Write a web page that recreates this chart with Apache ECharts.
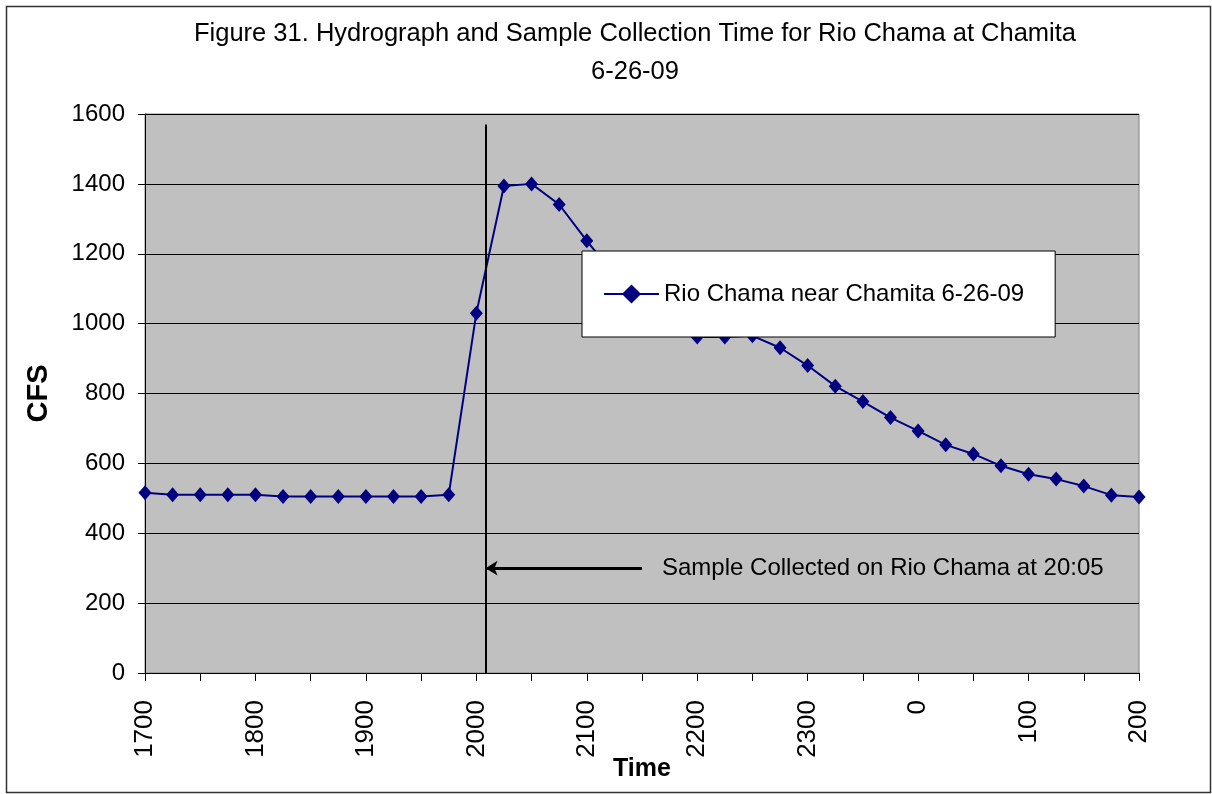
<!DOCTYPE html>
<html>
<head>
<meta charset="utf-8">
<script src="https://cdn.jsdelivr.net/npm/echarts@6/dist/echarts.min.js"></script>
<style>
    html, body { margin: 0; padding: 0; background: #fff; }
    #main { width: 1212px; height: 794px; }
</style>
</head>
<body>
<div id="main"></div>
<script>
    // clock times (hhmm) of the readings, 15 min apart
    var times = [1700, 1715, 1730, 1745, 1800, 1815, 1830, 1845, 1900, 1915, 1930, 1945,
                 2000, 2015, 2030, 2045, 2100, 2115, 2130, 2145, 2200, 2215, 2230, 2245,
                 2300, 2315, 2330, 2345, 0, 15, 30, 45, 100, 115, 130, 145, 200];
    // flow in CFS
    var cfs = [516, 510, 510, 510, 510, 505, 505, 505, 505, 505, 505, 510,
               1030, 1394, 1400, 1341, 1237, 1140, 1060, 1000, 962, 962, 965, 931,
               880, 821, 777, 731, 693, 653, 627, 593, 569, 555, 535, 509, 504];
    var yTicks = [0, 200, 400, 600, 800, 1000, 1200, 1400, 1600];

    var sampleTime = 2005;       // sample collected
    var arrowFromTime = 2130;    // tail of the arrow
    var arrowLevel = 300;        // CFS level of the arrow
    var lineTop = 1570;

    var startTime = times[0];

    // minutes since the first reading
    function toMin(t) {
        var m = Math.floor(t / 100) * 60 + t % 100;
        var s = Math.floor(startTime / 100) * 60 + startTime % 100;
        return (m - s + 1440) % 1440;
    }
    function toLabel(v) {
        if (v % 60 !== 0) return '';
        var s = Math.floor(startTime / 100) * 60 + startTime % 100;
        var h = Math.floor(((s + v) % 1440) / 60);
        return String(h * 100);
    }

    var seriesData = [];
    for (var i = 0; i < times.length; i++) {
        seriesData.push([toMin(times[i]), cfs[i]]);
    }

    var font = '"Liberation Sans", Arial, sans-serif';

    var myChart = echarts.init(document.getElementById('main'));

    var option = {
        animation: false,
        title: {
            text: 'Figure 31. Hydrograph and Sample Collection Time for Rio Chama at Chamita\n6-26-09',
            left: 630,
            top: 10,
            textAlign: 'center',
            textStyle: {
                fontFamily: font,
                fontSize: 25.5,
                fontWeight: 'normal',
                color: '#000',
                lineHeight: 38
            }
        },
        legend: {
            data: ['Rio Chama near Chamita 6-26-09'],
            left: 582,
            top: 251,
            orient: 'vertical',
            padding: [31, 31, 31, 21],
            backgroundColor: '#fff',
            borderColor: '#000',
            borderWidth: 1,
            borderRadius: 0,
            itemWidth: 55,
            itemHeight: 24,
            textStyle: {
                fontFamily: font,
                fontSize: 24,
                color: '#000'
            }
        },
        grid: {
            left: 145,
            right: 73,
            top: 114,
            bottom: 121,
            show: true,
            backgroundColor: '#c0c0c0',
            borderColor: '#808080',
            borderWidth: 1
        },
        xAxis: {
            type: 'value',
            min: toMin(times[0]),
            max: toMin(times[times.length - 1]),
            interval: 30,
            name: 'Time',
            nameLocation: 'middle',
            nameGap: 84,
            nameMoveOverlap: false,
            nameTextStyle: {
                fontFamily: font,
                fontSize: 25,
                fontWeight: 'bold',
                color: '#000'
            },
            axisLine: { lineStyle: { color: '#000', width: 1 } },
            axisTick: { show: true, length: 8, lineStyle: { color: '#000' } },
            splitLine: { show: false },
            axisLabel: {
                rotate: 90,
                margin: 27,
                fontFamily: font,
                fontSize: 26,
                color: '#000',
                formatter: toLabel
            }
        },
        yAxis: {
            type: 'value',
            min: yTicks[0],
            max: yTicks[yTicks.length - 1],
            interval: yTicks[1] - yTicks[0],
            name: 'CFS',
            nameLocation: 'middle',
            nameRotate: 90,
            nameGap: 92,
            nameMoveOverlap: false,
            nameTextStyle: {
                fontFamily: font,
                fontSize: 29,
                fontWeight: 'bold',
                color: '#000'
            },
            axisLine: { show: true, lineStyle: { color: '#000', width: 1 } },
            axisTick: { show: true, length: 7, lineStyle: { color: '#000' } },
            splitLine: { show: true, lineStyle: { color: '#000', width: 1 } },
            axisLabel: {
                margin: 20,
                fontFamily: font,
                fontSize: 24,
                color: '#000',
                formatter: function (v) { return String(v); }
            }
        },
        series: [
            {
                name: 'Rio Chama near Chamita 6-26-09',
                type: 'line',
                data: seriesData,
                symbol: 'diamond',
                symbolSize: [13, 15],
                itemStyle: { color: '#000080' },
                lineStyle: { color: '#000080', width: 2 },
                markLine: {
                    silent: true,
                    animation: false,
                    symbol: ['none', 'none'],
                    data: [
                        [
                            { coord: [toMin(sampleTime), lineTop], symbol: 'none',
                              lineStyle: { color: '#000', width: 2, type: 'solid' },
                              label: { show: false } },
                            { coord: [toMin(sampleTime), 0], symbol: 'none' }
                        ],
                        [
                            { coord: [toMin(arrowFromTime), arrowLevel], symbol: 'none',
                              lineStyle: { color: '#000', width: 3, type: 'solid' },
                              label: {
                                  show: true,
                                  position: 'start',
                                  distance: 20,
                                  formatter: 'Sample Collected on Rio Chama at 20:05',
                                  fontFamily: font,
                                  fontSize: 24,
                                  color: '#000'
                              } },
                            { coord: [toMin(sampleTime), arrowLevel], symbol: 'arrow', symbolSize: [11, 12] }
                        ]
                    ]
                }
            }
        ],
        graphic: [
            {
                type: 'rect',
                left: 4,
                top: 4,
                shape: { width: 1204, height: 786 },
                style: { fill: 'none', stroke: '#333', lineWidth: 1.5 },
                silent: true
            }
        ]
    };

    myChart.setOption(option);
</script>
</body>
</html>
